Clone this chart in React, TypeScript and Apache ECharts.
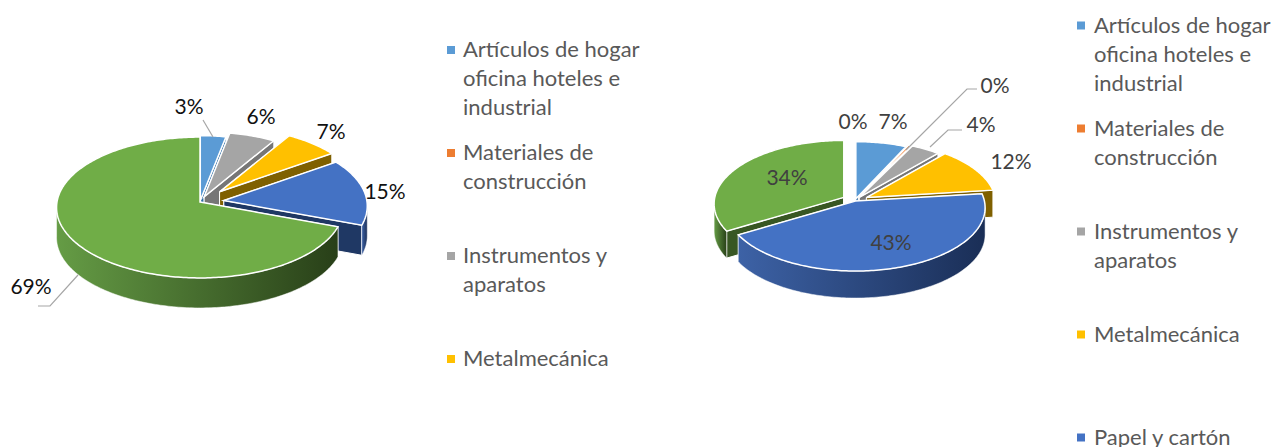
import React, { useEffect, useRef } from "react";
import * as echarts from "echarts";

const legendNames = [
  "Artículos de hogar\noficina hoteles e\nindustrial",
  "Materiales de\nconstrucción",
  "Instrumentos y\naparatos",
  "Metalmecánica",
  "Papel y cartón",
];
const leftValues = [3.1, 0, 5.6, 6.6, 15.3, 69.4];
const rightValues = [7, 0.4, 4, 11.7, 43.4, 33.5, 0];

const TOP = ["#5B9BD5", "#ED7D31", "#A5A5A5", "#FFC000", "#4472C4", "#70AD47", "#255E91"];
const FACE = ["#2E6CA4", "#A5501C", "#767676", "#7F6000", "#1F3864", "#385723", "#1F3864"];
const ARC: [string, string][] = [
  ["#4A86BD", "#2E5C88"],
  ["#C0652A", "#8A4A1E"],
  ["#8C8C8C", "#5E5E5E"],
  ["#A57F00", "#7F6000"],
  ["#3D62A6", "#1A2E56"],
  ["#659C45", "#283F18"],
  ["#255E91", "#1A3F63"],
];
const FONT = "Lato, sans-serif";

const leftPie = {
  cx: 200, cy: 202, R: 143, S: 70, k: 0.078, depth: 30,
  explode: [0.02, 0, 0.08, 0.2, 0.168, 0],
  order: [0, 2, 3, 4, 5],
  labelColor: "#111111",
  labels: [
    { i: 0, x: 189, y: 105 }, { i: 2, x: 261, y: 115 }, { i: 3, x: 331, y: 130 },
    { i: 4, x: 385, y: 190 }, { i: 5, x: 31, y: 285 },
  ],
  leaders: [
    [[203, 120], [213, 137]],
    [[78, 275], [50, 306], [38, 306]],
  ],
};
const rightPie = {
  cx: 855, cy: 200.5, R: 129, S: 62.8, k: 0.102, depth: 27,
  explode: [0.03, 0.06, 0.06, 0.1, 0.01, 0.1, 0],
  order: [0, 1, 2, 3, 5, 4],
  labelColor: "#404040",
  labels: [
    { i: 0, x: 893, y: 120 }, { i: 1, x: 995, y: 84 }, { i: 2, x: 981, y: 123 },
    { i: 3, x: 1011, y: 160 }, { i: 4, x: 891, y: 241 }, { i: 5, x: 787, y: 176 },
    { i: 6, x: 853, y: 120 },
  ],
  leaders: [
    [[977, 89], [967, 89], [906, 150]],
    [[962, 130], [948, 130], [930, 147]],
  ],
};

type Pie = typeof leftPie;

function pieSeries(values: number[], pie: Pie) {
  const total = values.reduce((a, b) => a + b, 0);
  const starts: number[] = [];
  let acc = 0;
  for (const v of values) {
    starts.push(acc);
    acc += v;
  }
  const rad = (v: number) => (v / total) * Math.PI * 2;
  const renderItem = (params: any) => {
    const i = pie.order[params.dataIndex];
    const a0 = rad(starts[i]);
    const a1 = rad(starts[i] + values[i]);
    const mid = (a0 + a1) / 2;
    const e = pie.explode[i];
    const tx = pie.cx + e * pie.R * Math.sin(mid);
    const ty = pie.cy - e * pie.S * Math.cos(mid);
    const pt = (a: number): number[] => {
      const d = 1 + pie.k * Math.cos(a);
      return [tx + (pie.R * Math.sin(a)) / d, ty - (pie.S * Math.cos(a)) / d];
    };
    const samples = (from: number, to: number) => {
      const n = Math.max(2, Math.ceil(((to - from) * 180) / Math.PI));
      const out: number[][] = [];
      for (let j = 0; j <= n; j++) out.push(pt(from + ((to - from) * j) / n));
      return out;
    };
    const down = (p: number[]) => [p[0], p[1] + pie.depth];
    const children: any[] = [];
    const face = (a: number) => {
      const p = pt(a);
      children.push({
        type: "polygon",
        shape: { points: [[tx, ty], p, down(p), [tx, ty + pie.depth]] },
        style: { fill: FACE[i], stroke: "#fff", lineWidth: 1 },
      });
    };
    face(a0);
    face(a1);
    const lo = Math.max(a0, Math.acos(-pie.k));
    const hi = Math.min(a1, Math.PI * 2 - Math.acos(-pie.k));
    if (hi > lo) {
      const arc = samples(lo, hi);
      children.push({
        type: "polygon",
        shape: { points: [...arc, ...arc.slice().reverse().map(down)] },
        style: {
          fill: new echarts.graphic.LinearGradient(0, 0, 1, 0, [
            { offset: 0, color: ARC[i][0] },
            { offset: 1, color: ARC[i][1] },
          ]),
          stroke: "#fff",
          lineWidth: 0.5,
        },
      });
    }
    children.push({
      type: "polygon",
      shape: { points: [[tx, ty], ...samples(a0, a1)] },
      style: { fill: TOP[i], stroke: "#fff", lineWidth: 1.5, lineJoin: "miter" },
    });
    return { type: "group", children };
  };
  const renderLabels = (params: any) => {
    if (params.dataIndex > 0) return { type: "group", children: [] };
    const children: any[] = pie.leaders.map((points) => ({
      type: "polyline",
      shape: { points },
      style: { fill: "none", stroke: "#A6A6A6", lineWidth: 1.2 },
    }));
    pie.labels.forEach((l) => {
      children.push({
        type: "text",
        style: {
          text: `${Math.round(values[l.i])}%`,
          x: l.x,
          y: l.y,
          fill: pie.labelColor,
          font: `21px ${FONT}`,
          align: "center",
          verticalAlign: "middle",
        },
      });
    });
    return { type: "group", children };
  };
  return [
    {
      type: "custom",
      coordinateSystem: "none",
      silent: true,
      z: 2,
      data: pie.order.map((i) => [values[i]]),
      renderItem,
    },
    {
      type: "custom",
      coordinateSystem: "none",
      silent: true,
      z: 3,
      data: [[0]],
      renderItem: renderLabels,
    },
  ];
}

function legendBlock(names: string[], swatchX: number, textX: number, firstY: number) {
  const step = 103;
  const out: any[] = [];
  names.forEach((name, i) => {
    const y = firstY + i * step;
    out.push({
      type: "rect",
      shape: { x: swatchX, y: y - 4, width: 8, height: 8 },
      style: { fill: TOP[i] },
    });
    out.push({
      type: "text",
      x: textX,
      y: y - 16,
      style: {
        text: name,
        fill: "#595959",
        font: `22px ${FONT}`,
        lineHeight: 29,
        verticalAlign: "top",
      },
    });
  });
  return out;
}

export default function App() {
  const ref = useRef<HTMLDivElement>(null);
  useEffect(() => {
    document.body.style.margin = "0";
    const chart = echarts.init(ref.current!, undefined, { renderer: "svg" });
    chart.setOption({
      animation: false,
      backgroundColor: "#fff",
      series: [...pieSeries(leftValues, leftPie), ...pieSeries(rightValues, rightPie as Pie)],
      graphic: [
        ...legendBlock(legendNames.slice(0, 4), 447, 463, 50),
        ...legendBlock(legendNames, 1077, 1094, 25.5),
      ],
    });
    return () => chart.dispose();
  }, []);
  return <div ref={ref} style={{ width: 1274, height: 447, position: "fixed", left: 0, top: 0 }} />;
}
